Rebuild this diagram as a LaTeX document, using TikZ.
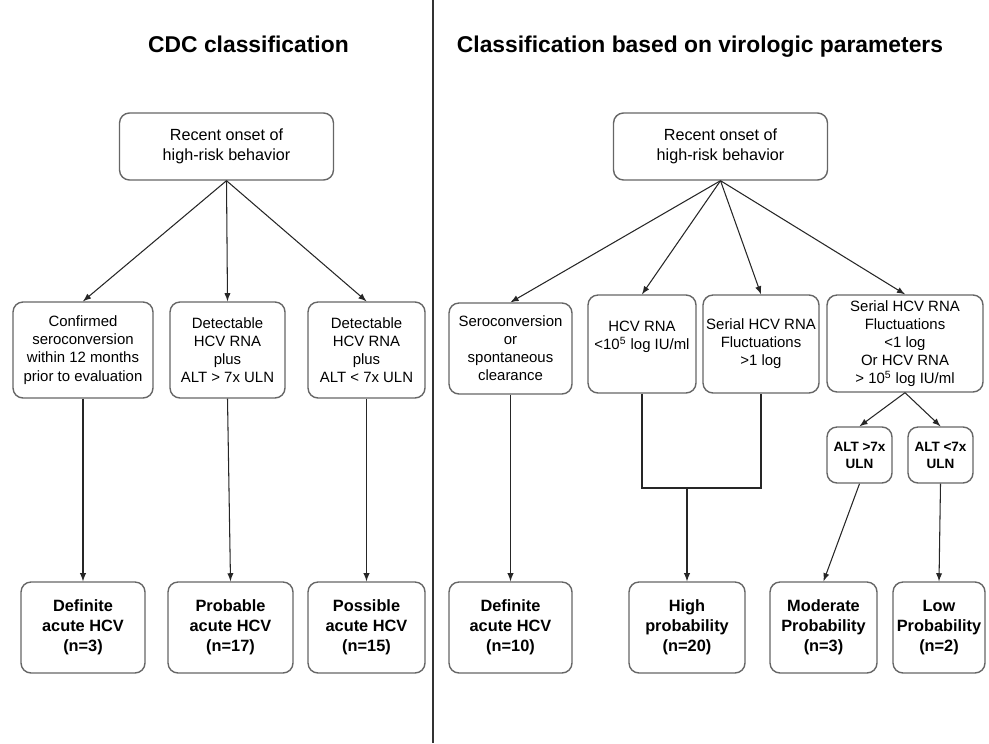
\documentclass[tikz,border=0pt]{standalone}
\usepackage{fontspec}
\setmainfont{Liberation Sans}
\usepackage{tikz}
\usetikzlibrary{calc, positioning}

\begin{document}
\begin{tikzpicture}[>=latex, x=0.02cm, y=-0.02cm,
    box/.style={draw=black!60, line width=0.8pt, rounded corners=0.2cm, align=center, inner sep=0pt,
        font=\fontsize{8.5}{10.3}\selectfont},
    topbox/.style={box, font=\fontsize{9.2}{11.3}\selectfont, minimum width=4.28cm, minimum height=1.34cm},
    endbox/.style={box, font=\bfseries\fontsize{9.3}{11.3}\selectfont, minimum height=1.82cm},
    altbox/.style={box, font=\bfseries\fontsize{7.7}{9.6}\selectfont, minimum width=1.3cm, minimum height=1.12cm},
    title/.style={font=\bfseries\fontsize{13}{15}\selectfont, anchor=base},
    link/.style={->, black!85, line width=0.6pt}]
    \useasboundingbox (0,0) rectangle (989,743);

    % 1. Đường chia đôi hình
    \draw[black!80, line width=0.6pt] (433,0) -- (433,743);

    % 2. Bên trái: phân loại CDC
    \node[title] (tCDC) at (248.5,53) {CDC classification};
    \node[topbox] (sL) at (226.5,146.5) {Recent onset of\\high-risk behavior};

    \node[box, minimum width=2.8cm, minimum height=1.92cm] (cA) at (83,350)
        {Confirmed\\seroconversion\\within 12 months\\prior to evaluation};
    \node[box, minimum width=2.3cm, minimum height=1.92cm] (cB) at (227.5,350)
        {Detectable\\HCV RNA\\plus\\ALT > 7x ULN};
    \node[box, minimum width=2.34cm, minimum height=1.92cm] (cC) at (366.5,350)
        {Detectable\\HCV RNA\\plus\\ALT < 7x ULN};

    \node[endbox, minimum width=2.48cm] (dA) at (83,627.5) {Definite\\acute HCV\\(n=3)};
    \node[endbox, minimum width=2.5cm] (dB) at (230.5,627.5) {Probable\\acute HCV\\(n=17)};
    \node[endbox, minimum width=2.34cm] (dC) at (366.5,627.5) {Possible\\acute HCV\\(n=15)};

    \foreach \c/\d in {cA/dA, cB/dB, cC/dC} {
        \draw[link] (sL.south) -- (\c.north);
        \draw[link] (\c.south) -- (\d.north);
    }

    % 3. Bên phải: phân loại theo thông số virus
    \node[title] (tVir) at (700,53) {Classification based on virologic parameters};
    \node[topbox] (sR) at (720.5,146.5) {Recent onset of\\high-risk behavior};

    \node[box, minimum width=2.46cm, minimum height=1.82cm] (rA) at (510.5,348.5)
        {Seroconversion\\or\\spontaneous\\clearance};
    \node[box, minimum width=2.16cm, minimum height=1.96cm] (rB) at (642,344)
        {HCV RNA\\<10\textsuperscript{5} log IU/ml\\ \mbox{}};
    \node[box, minimum width=2.32cm, minimum height=1.96cm] (rC) at (761,344)
        {Serial HCV RNA\\Fluctuations\\>1 log};
    \node[box, minimum width=3.12cm, minimum height=1.94cm] (rD) at (905,343.5)
        {Serial HCV RNA\\Fluctuations\\<1 log\\Or HCV RNA\\> 10\textsuperscript{5} log IU/ml};

    \node[altbox] (aM) at (859.5,455) {ALT >7x\\ULN};
    \node[altbox] (aL) at (940.5,455) {ALT <7x\\ULN};

    \node[endbox, minimum width=2.46cm] (eA) at (510.5,627.5) {Definite\\acute HCV\\(n=10)};
    \node[endbox, minimum width=2.32cm] (eB) at (687,627.5) {High\\probability\\(n=20)};
    \node[endbox, minimum width=2.14cm] (eC) at (823.5,627.5) {Moderate\\Probability\\(n=3)};
    \node[endbox, minimum width=1.84cm] (eD) at (939,627.5) {Low\\Probability\\(n=2)};

    \foreach \r in {rA, rB, rC, rD}
        \draw[link] (sR.south) -- (\r.north);
    \draw[link] (rD.south) -- (aM.north);
    \draw[link] (rD.south) -- (aL.north);
    \draw[link] (rA.south) -- (eA.north);
    \draw[link] (aM.south) -- (eC.north);
    \draw[link] (aL.south) -- (eD.north);

    % nhánh gộp về "High probability"
    \coordinate (mJ) at (687,488);
    \draw[black!85, line width=0.6pt] (rB.south) |- (mJ) -| (rC.south);
    \draw[link] (mJ) -- (eB.north);

\end{tikzpicture}
\end{document}
